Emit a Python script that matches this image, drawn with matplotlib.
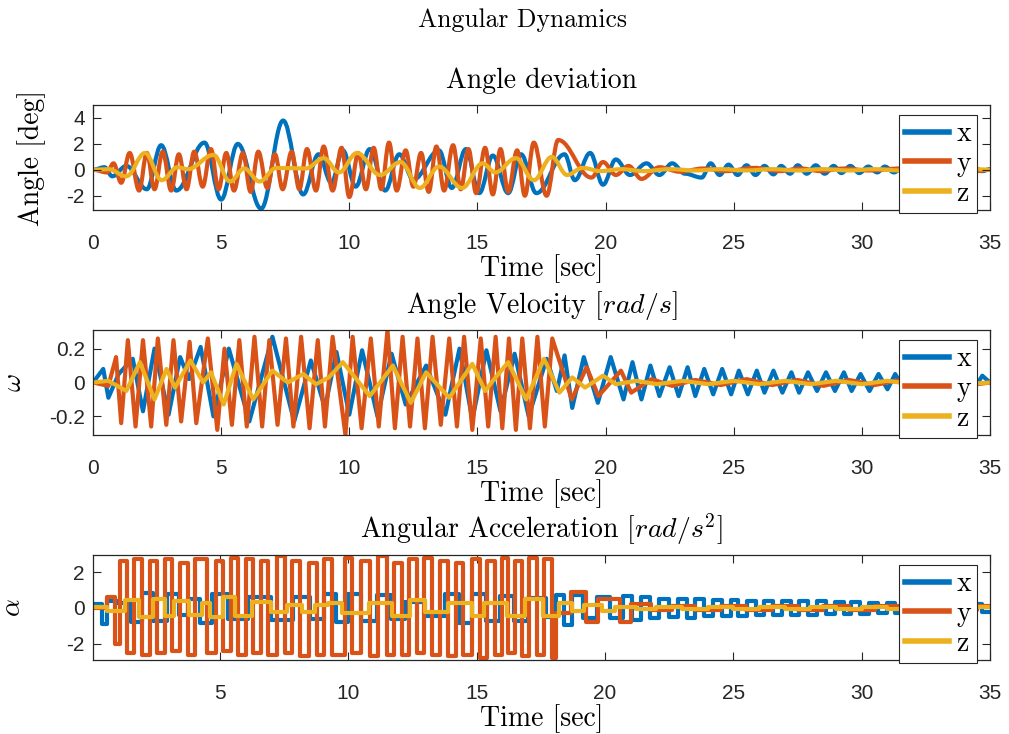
import matplotlib
matplotlib.use("Agg")
import matplotlib.pyplot as plt
from matplotlib.path import Path
from matplotlib.patches import PathPatch

# ---------------- data ----------------
# Angle deviation [deg] : extrema (time, value)
angle_x = [(0, 0), (0.45, 0.2), (0.75, -0.5), (1.3, 0.3), (2.1, -1.5), (2.66, 1.9), (3.25, -1.6),
           (4.35, 2.1), (5.0, -2.3), (5.65, 2.0), (6.56, -3.0), (7.42, 3.8), (8.2, -1.9), (8.8, 1.2),
           (9.3, -1.0), (9.75, 1.5), (10.25, -1.3), (10.8, 1.6), (11.4, -1.6), (11.95, 1.2),
           (12.5, -0.75), (13.5, 1.5), (14.0, -1.4), (14.55, 1.6), (15.07, -1.8), (15.6, 1.1),
           (16.2, -1.8), (16.7, 1.2), (17.3, -1.8), (18.4, 1.2), (18.8, -0.8), (19.4, 1.3),
           (19.9, -1.15), (20.4, 0.8), (20.95, -0.4), (21.6, 0.5), (22.1, -0.4), (22.6, 0.5),
           (23.1, -0.3), (23.75, -0.6), (24.1, 0.5), (24.45, -0.4), (24.8, 0.4), (25.15, -0.4),
           (25.5, 0.35), (25.85, -0.4), (26.2, 0.3), (26.55, -0.35), (26.85, 0.3), (27.2, -0.3),
           (27.5, 0.35), (27.85, -0.3), (28.2, 0.35), (28.55, -0.3), (28.9, 0.3), (29.2, -0.25),
           (29.55, 0.3), (29.9, -0.25), (30.25, 0.25), (30.6, -0.2), (30.9, 0.25), (31.25, -0.2),
           (31.6, 0.2), (31.95, -0.2), (32.3, 0.2), (32.65, -0.15), (33.0, 0.2), (33.35, -0.15),
           (33.7, 0.15), (34.05, -0.15), (34.4, 0.15), (34.7, -0.1), (35.0, 0.05)]
angle_y = [(0, 0), (0.55, -0.2), (0.8, 0.5), (1.1, -1.0), (1.43, 1.3), (1.8, -1.6), (2.1, 1.3),
           (2.4, -1.5), (2.72, 1.4), (3.05, -1.6), (3.35, 1.2), (3.65, -1.5), (3.95, 1.4),
           (4.28, -1.3), (4.6, 1.6), (4.9, -1.5), (5.2, 1.3), (5.5, -1.6), (5.85, 1.3), (6.15, -1.7),
           (6.45, 1.4), (6.8, -1.4), (7.1, 1.2), (7.4, -1.5), (7.75, 1.4), (8.05, -1.5), (8.35, 1.6),
           (8.7, -1.6), (9.0, 1.8), (9.35, -1.6), (9.7, 1.7), (10.0, -2.1), (10.35, 1.3),
           (10.65, -1.5), (10.95, 1.7), (11.25, -1.5), (11.55, 2.1), (11.85, -1.6), (12.2, 1.5),
           (12.5, -1.3), (12.8, 1.3), (13.1, -1.7), (13.4, 1.8), (13.7, -1.6), (14.05, 1.9),
           (14.35, -1.5), (14.65, 1.6), (14.95, -1.8), (15.3, 1.7), (15.6, -1.9), (15.9, 1.6),
           (16.2, -1.7), (16.55, 1.5), (16.85, -2.0), (17.2, 2.1), (17.7, -2.0), (18.15, 2.3),
           (19.45, -0.6), (19.9, 0.6), (20.4, -0.4), (20.9, 0.3), (21.4, -0.7), (22.1, 0.2),
           (22.9, -0.15), (23.8, 0.1), (24.7, -0.1), (25.8, 0.15), (26.8, -0.1), (27.6, 0.1),
           (28.4, -0.1), (29.3, 0.1), (30.3, -0.05), (31.5, 0.1), (32.5, -0.05), (33.5, 0.05),
           (34.5, -0.1), (35.0, 0.0)]
angle_z = [(0, 0), (0.6, 0.05), (1.3, -0.5), (2.03, 1.3), (2.68, -0.8), (3.3, 0.2), (3.7, 0.05),
           (4.7, 1.15), (5.35, -0.9), (5.9, 0.1), (6.5, -0.9), (7.15, 0.15), (8.3, 0.1), (9.0, 0.9),
           (9.6, -0.2), (10.3, 1.3), (11.2, -0.4), (12.0, 0.6), (12.75, -1.4), (13.5, 0.25),
           (14.4, -1.4), (15.2, 0.5), (15.7, -0.2), (16.5, 0.9), (17.2, -0.8), (17.9, 1.0),
           (18.5, -0.4), (19.1, 0.15), (19.8, -0.1), (20.6, 0.05), (21.5, -0.1), (22.5, 0.05),
           (23.5, -0.05), (24.5, 0.05), (25.5, -0.05), (26.5, 0.05), (27.5, -0.05), (28.5, 0.05),
           (29.5, -0.05), (30.5, 0.05), (31.5, -0.05), (32.5, 0.05), (33.5, -0.05), (34.5, 0.05),
           (35.0, 0.0)]

# Angle velocity [rad/s]
vel_x = [(0, 0), (0.4, 0.08), (0.6, -0.09), (1.0, 0.05), (1.55, 0.14), (1.95, -0.17), (2.4, 0.2),
         (2.95, -0.19), (3.4, 0.15), (3.75, 0.02), (4.2, 0.21), (4.7, -0.2), (5.3, 0.2), (6.1, -0.23),
         (7.0, 0.27), (7.85, -0.23), (8.5, 0.13), (9.05, -0.15), (9.5, 0.18), (10.0, -0.19),
         (10.5, 0.19), (11.1, -0.2), (11.65, 0.17), (12.2, -0.13), (13.0, 0.1), (13.75, -0.19),
         (14.3, 0.2), (14.8, -0.22), (15.35, 0.19), (15.9, -0.17), (16.45, 0.17), (17.0, -0.2),
         (17.7, 0.14), (18.1, -0.05), (18.4, 0.16), (18.7, -0.15), (19.15, 0.15), (19.7, -0.12),
         (20.2, 0.15), (20.7, -0.1), (21.05, 0.12), (21.4, -0.1), (21.75, 0.1), (22.1, -0.08),
         (22.5, 0.09), (22.85, -0.08), (23.2, 0.09), (23.5, -0.08), (23.85, 0.08), (24.2, -0.07),
         (24.55, 0.08), (24.9, -0.07), (25.2, 0.07), (25.55, -0.07), (25.9, 0.07), (26.2, -0.06),
         (26.55, 0.07), (26.9, -0.06), (27.25, 0.06), (27.55, -0.06), (27.9, 0.06), (28.25, -0.05),
         (28.6, 0.06), (28.95, -0.05), (29.3, 0.06), (29.6, -0.05), (29.95, 0.05), (30.3, -0.05),
         (30.65, 0.05), (31.0, -0.04), (31.3, 0.05), (31.65, -0.04), (32.0, 0.05), (32.35, -0.04),
         (32.7, 0.04), (33.0, -0.04), (33.35, 0.04), (33.7, -0.03), (34.05, 0.04), (34.4, -0.03),
         (34.7, 0.04), (35.0, 0.0)]
vel_y = [(0, 0), (0.6, -0.02), (0.9, 0.15), (1.1, -0.24), (1.36, 0.25), (1.66, -0.26), (1.95, 0.25),
         (2.27, -0.26), (2.53, 0.26), (2.86, -0.25), (3.14, 0.25), (3.44, -0.23), (3.77, 0.24),
         (4.03, -0.24), (4.48, 0.26), (4.85, -0.28), (5.13, 0.2), (5.42, -0.25), (5.71, 0.25),
         (6.0, -0.26), (6.3, 0.27), (6.6, -0.26), (6.88, 0.25), (7.2, -0.25), (7.53, 0.26),
         (7.82, -0.26), (8.12, 0.27), (8.45, -0.27), (8.77, 0.25), (9.05, -0.26), (9.35, 0.27),
         (9.85, -0.31), (10.13, 0.27), (10.48, -0.27), (10.84, 0.26), (11.15, -0.26), (11.49, 0.31),
         (11.78, -0.27), (12.08, 0.27), (12.37, -0.26), (12.66, 0.26), (12.95, -0.27), (13.25, 0.27),
         (13.57, -0.25), (13.9, 0.26), (14.2, -0.26), (14.48, 0.27), (14.8, -0.28), (15.13, 0.26),
         (15.42, -0.26), (15.71, 0.27), (15.97, -0.27), (16.23, 0.26), (16.5, -0.28), (16.75, 0.26),
         (17.05, -0.27), (17.34, 0.27), (17.63, -0.26), (17.92, 0.26), (18.68, -0.1), (19.26, 0.09),
         (19.72, -0.08), (20.6, 0.07), (21.0, -0.06), (21.8, 0.02), (22.6, -0.02), (23.5, 0.015),
         (24.5, -0.015), (25.5, 0.02), (26.5, -0.015), (27.5, 0.015), (28.5, -0.02), (29.5, 0.015),
         (30.5, -0.015), (31.5, 0.015), (32.5, -0.01), (33.5, 0.015), (34.5, -0.01), (35.0, 0.0)]
vel_z = [(0, 0), (0.6, 0.01), (1.3, -0.05), (1.83, 0.12), (2.4, -0.1), (2.87, 0.08), (3.2, -0.03),
         (3.8, 0.13), (4.3, 0.0), (4.6, 0.06), (5.1, -0.13), (5.6, 0.11), (6.25, -0.1), (7.0, 0.07),
         (7.6, 0.0), (8.2, 0.05), (8.7, -0.01), (9.2, 0.03), (9.75, 0.12), (10.8, -0.08), (11.7, 0.1),
         (12.4, -0.12), (13.0, 0.06), (13.9, -0.09), (14.8, 0.11), (15.3, -0.05), (15.6, 0.01),
         (16.2, 0.12), (16.9, -0.1), (17.6, 0.14), (18.2, -0.06), (18.7, 0.03), (19.2, -0.03),
         (19.9, 0.04), (20.4, -0.01), (21.2, 0.01), (22, -0.01), (23, 0.01), (24, -0.01), (25, 0.01),
         (26, -0.01), (27, 0.01), (28, -0.01), (29, 0.01), (30, -0.01), (31, 0.01), (32, -0.01),
         (33, 0.01), (34, -0.01), (35, 0.0)]

# Angular acceleration [rad/s^2] : piecewise-constant levels (switch time, level)
acc_x = [(0, 0.2), (0.4, -0.9), (0.6, 0.4), (1.0, 0.3), (1.55, -0.8), (1.95, 0.85), (2.4, -0.75),
         (2.95, 0.8), (3.4, -0.4), (3.75, 0.5), (4.2, -0.85), (4.7, 0.75), (5.3, -0.6), (6.1, 0.6),
         (7.0, -0.65), (7.85, 0.6), (8.5, -0.6), (9.05, 0.8), (9.5, -0.8), (10.0, 0.8), (10.5, -0.7),
         (11.1, 0.7), (11.65, -0.6), (12.2, 0.35), (13.0, -0.45), (13.75, 0.75), (14.3, -0.85),
         (14.8, 0.8), (15.35, -0.7), (15.9, 0.65), (16.45, -0.7), (17.0, 0.55), (17.7, -0.5),
         (18.1, 0.7), (18.4, -0.95), (18.7, 0.7), (19.15, -0.55), (19.7, 0.6), (20.2, -0.55),
         (20.7, 0.65), (21.05, -0.65), (21.4, 0.6), (21.75, -0.55), (22.1, 0.5), (22.5, -0.5),
         (22.85, 0.5), (23.2, -0.55), (23.5, 0.5), (23.85, -0.45), (24.2, 0.45), (24.55, -0.45),
         (24.9, 0.45), (25.2, -0.45), (25.55, 0.4), (25.9, -0.4), (26.2, 0.4), (26.55, -0.4),
         (26.9, 0.4), (27.25, -0.4), (27.55, 0.38), (27.9, -0.38), (28.25, 0.36), (28.6, -0.36),
         (28.95, 0.35), (29.3, -0.35), (29.6, 0.33), (29.95, -0.33), (30.3, 0.3), (30.65, -0.3),
         (31.0, 0.3), (31.3, -0.3), (31.65, 0.28), (32.0, -0.28), (32.35, 0.27), (32.7, -0.27),
         (33.0, 0.26), (33.35, -0.26), (33.7, 0.25), (34.05, -0.25), (34.4, 0.24), (34.7, -0.24),
         (35.0, -0.24)]
acc_y = [(0, 0.0), (0.6, 0.6), (0.9, -2.0), (1.1, 2.6), (1.36, -2.5), (1.66, 2.7), (1.95, -2.6),
         (2.27, 2.6), (2.53, -2.5), (2.86, 2.7), (3.14, -2.4), (3.44, 2.5), (3.77, -2.6), (4.03, 2.7),
         (4.48, -2.5), (4.85, 2.6), (5.13, -2.4), (5.42, 2.8), (5.71, -2.6), (6.0, 2.7), (6.3, -2.5),
         (6.6, 2.6), (6.88, -2.6), (7.2, 2.9), (7.53, -2.5), (7.82, 2.6), (8.12, -2.7), (8.45, 2.5),
         (8.77, -2.6), (9.05, 2.7), (9.35, -2.6), (9.85, 2.8), (10.13, -2.5), (10.48, 2.6),
         (10.84, -2.7), (11.15, 2.9), (11.49, -2.6), (11.78, 2.5), (12.08, -2.6), (12.37, 2.7),
         (12.66, -2.5), (12.95, 2.8), (13.25, -2.6), (13.57, 2.6), (13.9, -2.7), (14.2, 2.5),
         (14.48, -2.6), (14.8, 2.7), (15.13, -2.8), (15.42, 2.6), (15.71, -2.6), (15.97, 2.8),
         (16.23, -2.5), (16.5, 2.6), (16.75, -2.7), (17.05, 2.8), (17.34, -2.6), (17.63, 2.7),
         (17.92, -2.8), (18.1, -0.3), (18.68, 0.9), (19.26, -0.8), (19.72, 0.5), (20.6, -0.8),
         (21.0, 0.2), (21.8, -0.1), (22.6, 0.1), (23.5, -0.1), (24.5, 0.1), (25.5, -0.1), (26.5, 0.1),
         (27.5, -0.1), (28.5, 0.1), (29.5, -0.1), (30.5, 0.1), (31.5, -0.1), (32.5, 0.1), (33.5, -0.1),
         (34.5, 0.1), (35.0, 0.1)]
acc_z = [(0, 0.03), (0.6, -0.15), (1.3, 0.45), (1.83, -0.5), (2.4, 0.5), (2.87, -0.45), (3.2, 0.4),
         (3.8, -0.4), (4.3, 0.3), (4.6, -0.5), (5.1, 0.6), (5.6, -0.45), (6.25, 0.35), (7.0, -0.2),
         (7.6, 0.15), (8.2, -0.2), (8.7, 0.15), (9.2, 0.25), (9.75, -0.3), (10.8, 0.3), (11.7, -0.45),
         (12.4, 0.45), (13.0, -0.25), (13.9, 0.3), (14.8, -0.45), (15.3, 0.3), (15.6, 0.25),
         (16.2, -0.45), (16.9, 0.5), (17.6, -0.45), (18.2, 0.25), (18.7, -0.15), (19.2, 0.15),
         (19.9, -0.15), (20.4, 0.05), (21.2, -0.05), (22, 0.04), (23, -0.04), (24, 0.04), (25, -0.04),
         (26, 0.04), (27, -0.04), (28, 0.04), (29, -0.04), (30, 0.04), (31, -0.04), (32, 0.04),
         (33, -0.04), (34, 0.04), (35, 0.04)]

series_names = ["x", "y", "z"]
xticks_top = [0, 5, 10, 15, 20, 25, 30, 35]
xticks_bottom = [5, 10, 15, 20, 25, 30, 35]
yticks_angle = [-2, 0, 2, 4]
yticks_vel = [-0.2, 0, 0.2]
yticks_acc = [-2, 0, 2]
ytick_labels_vel = ["-0.2", "0", "0.2"]

# ---------------- style ----------------
plt.rcParams["mathtext.fontset"] = "cm"
plt.rcParams["axes.unicode_minus"] = False
colors = ["#0072BD", "#D95319", "#EDB120"]
SERIF = "cmr10"
TICKFONT = "Liberation Sans"
LW = 3.0
TFS = 20

fig = plt.figure(figsize=(10.09, 7.34), dpi=100)
L, W, H = 93 / 1009, 897 / 1009, 105 / 734
bottoms = [1 - 210 / 734, 1 - 435 / 734, 1 - 660 / 734]
axes = [fig.add_axes([L, b, W, H]) for b in bottoms]


def unzip(pairs):
    return [p[0] for p in pairs], [p[1] for p in pairs]


def smooth_curve(ax, pairs, color, label):
    # smooth (cubic Bezier) curve through the read extrema, horizontal tangents at each point
    verts = [pairs[0]]
    codes = [Path.MOVETO]
    for (t0, v0), (t1, v1) in zip(pairs[:-1], pairs[1:]):
        dt = t1 - t0
        verts += [(t0 + 0.37 * dt, v0), (t1 - 0.37 * dt, v1), (t1, v1)]
        codes += [Path.CURVE4] * 3
    ax.add_patch(PathPatch(Path(verts, codes), fill=False, edgecolor=color, lw=LW,
                           capstyle="round", joinstyle="round"))
    ax.plot([], [], color=color, lw=LW, label=label)


# panel 1
ax = axes[0]
for data, c, n in zip([angle_x, angle_y, angle_z], colors, series_names):
    smooth_curve(ax, data, c, n)
ax.set_ylim(-3.1, 5.0)
ax.set_yticks(yticks_angle)
ax.set_xlim(0, 35)
ax.set_xticks(xticks_top)
ax.set_title("Angle deviation", fontfamily=SERIF, fontsize=TFS, pad=12)
ax.set_ylabel("Angle [deg]", fontfamily=SERIF, fontsize=TFS)
ax.yaxis.set_label_coords(-0.052, 0.5)

# panel 2
ax = axes[1]
for data, c, n in zip([vel_x, vel_y, vel_z], colors, series_names):
    t, v = unzip(data)
    ax.plot(t, v, color=c, lw=LW, label=n, solid_joinstyle="round")
ax.set_ylim(-0.31, 0.31)
ax.set_yticks(yticks_vel)
ax.set_yticklabels(ytick_labels_vel)
ax.set_xlim(0, 35)
ax.set_xticks(xticks_top)
ax.set_title(r"Angle Velocity $[rad/s]$", fontfamily=SERIF, fontsize=TFS, pad=12)
ax.set_ylabel(r"$\omega$", fontsize=TFS)
ax.yaxis.set_label_coords(-0.074, 0.5)

# panel 3
ax = axes[2]
for data, c, n in zip([acc_x, acc_y, acc_z], colors, series_names):
    t, v = unzip(data)
    ax.step(t, v, where="post", color=c, lw=LW, label=n)
ax.set_ylim(-2.9, 2.95)
ax.set_yticks(yticks_acc)
ax.set_xlim(0.05, 35)
ax.set_xticks(xticks_bottom)
ax.set_title(r"Angular Acceleration $[rad/s^2]$", fontfamily=SERIF, fontsize=TFS, pad=12)
ax.set_ylabel(r"$\alpha$", fontsize=TFS)
ax.yaxis.set_label_coords(-0.074, 0.5)

for ax in axes:
    ax.set_xlabel("Time [sec]", fontfamily=SERIF, fontsize=TFS, labelpad=1)
    ax.tick_params(direction="in", top=True, right=True, length=6, width=0.8,
                   labelsize=15, colors="#262626")
    ax.tick_params(axis="x", pad=17)
    ax.tick_params(axis="y", pad=6)
    for lab in ax.get_xticklabels() + ax.get_yticklabels():
        lab.set_fontfamily(TICKFONT)
    for s in ax.spines.values():
        s.set_color("#262626")
        s.set_linewidth(0.9)
    leg = ax.legend(loc="upper right", bbox_to_anchor=(0.9855, 0.905), prop={"family": SERIF, "size": 20},
                    frameon=True, fancybox=False, edgecolor="#262626", framealpha=1,
                    handlelength=1.6, handletextpad=0.25, labelspacing=0.12, borderpad=0.22,
                    borderaxespad=0)
    leg.get_frame().set_linewidth(0.8)
    for h in leg.get_lines():
        h.set_linewidth(4)

fig.text(522 / 1009, 1 - 20 / 734, "Angular Dynamics", ha="center", va="center",
         fontfamily=SERIF, fontsize=18.5)

fig.savefig("out.png", dpi=100)
